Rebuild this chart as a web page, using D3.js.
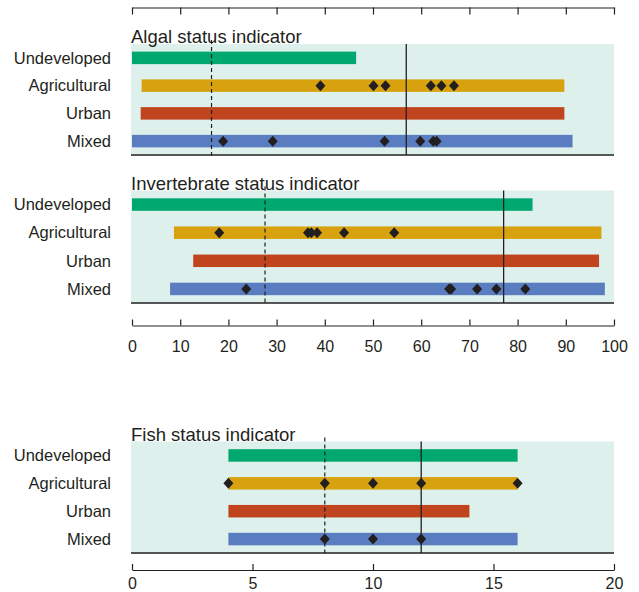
<!DOCTYPE html>
<html>
<head>
    <meta charset="utf-8" />
    <script src="https://cdn.jsdelivr.net/npm/d3@7"></script>
    <title>Status indicators</title>
    <style>
        body { margin: 0; background: #fff; }
        text { font-family: "Liberation Sans", Arial, sans-serif; fill: #231f20; }
    </style>
</head>
<body>
    <script>
        var categories = ["Undeveloped", "Agricultural", "Urban", "Mixed"];
        var colors = ["#00a870", "#d7a20d", "#c0441d", "#5a7cc0"];

        // [start, end] of each bar
        var algalRanges = [[0, 46.5], [2, 89.7], [1.8, 89.7], [0, 91.4]];
        var algalAgPoints = [39.1, 50.1, 52.6, 62, 64.2, 66.8];
        var algalMixedPoints = [18.9, 29.2, 52.4, 59.8, 62.5, 63.2];
        var algalLines = [16.5, 56.9]; // dashed, solid

        var invertRanges = [[0, 83.1], [8.7, 97.4], [12.7, 96.9], [7.9, 98.1]];
        var invertAgPoints = [18.1, 36.5, 37.2, 38.4, 44, 54.4];
        var invertMixedPoints = [23.7, 65.8, 66.2, 71.6, 75.6, 81.6];
        var invertLines = [27.6, 77.1];

        var fishRanges = [[4, 16], [4, 16], [4, 14], [4, 16]];
        var fishAgPoints = [4, 8, 10, 12, 16];
        var fishMixedPoints = [8, 10, 12];
        var fishLines = [8, 12];

        var pctTicks = [0, 10, 20, 30, 40, 50, 60, 70, 80, 90, 100];
        var fishTicks = [0, 5, 10, 15, 20];

        var svgWidth = 639, svgHeight = 592,
            left = 132, right = 614,
            barHeight = 12.5,
            ink = "#231f20";

        var svg = d3.select("body").append("svg")
            .attr("width", svgWidth)
            .attr("height", svgHeight);

        var xPct = d3.scaleLinear().domain([0, 100]).range([left, right]);
        var xFish = d3.scaleLinear().domain([0, 20]).range([left, right]);

        // category labels use the same band for every panel
        function drawPanel(title, x, top, bottom, ranges, agPoints, mixedPoints, lines) {
            var g = svg.append("g");
            var y = d3.scaleBand().domain(categories).range([top, bottom]);

            g.append("rect")
                .attr("x", left - 1)
                .attr("y", top)
                .attr("width", right - left + 1)
                .attr("height", bottom - top)
                .attr("fill", "#ddf0ec");

            g.append("text")
                .attr("x", left - 1)
                .attr("y", top - 1)
                .style("font-size", "18.5px")
                .text(title);

            g.selectAll(".cat")
                .data(categories)
                .enter().append("text")
                .attr("class", "cat")
                .attr("x", 111)
                .attr("y", function(d) { return y(d) + y.bandwidth() / 2; })
                .attr("dy", "0.35em")
                .attr("text-anchor", "end")
                .style("font-size", "16.5px")
                .text(function(d) { return d; });

            g.selectAll(".bar")
                .data(ranges)
                .enter().append("rect")
                .attr("class", "bar")
                .attr("x", function(d) { return x(d[0]); })
                .attr("width", function(d) { return x(d[1]) - x(d[0]); })
                .attr("y", function(d, i) { return y(categories[i]) + (y.bandwidth() - barHeight) / 2; })
                .attr("height", barHeight)
                .attr("fill", function(d, i) { return colors[i]; });

            // reference lines
            g.append("line")
                .attr("x1", x(lines[0])).attr("x2", x(lines[0]))
                .attr("y1", top - 4).attr("y2", bottom + 2)
                .attr("stroke", ink)
                .attr("stroke-width", 1.2)
                .attr("stroke-dasharray", "4,3");
            g.append("line")
                .attr("x1", x(lines[1])).attr("x2", x(lines[1]))
                .attr("y1", top).attr("y2", bottom)
                .attr("stroke", ink)
                .attr("stroke-width", 1.3);

            g.append("line")
                .attr("x1", left - 1).attr("x2", right)
                .attr("y1", bottom).attr("y2", bottom)
                .attr("stroke", ink)
                .attr("stroke-width", 1.3);

            var pts = agPoints.map(function(v) { return {v: v, c: "Agricultural"}; })
                .concat(mixedPoints.map(function(v) { return {v: v, c: "Mixed"}; }));
            g.selectAll(".pt")
                .data(pts)
                .enter().append("path")
                .attr("class", "pt")
                .attr("d", "M0,-5.5L5,0L0,5.5L-5,0Z")
                .attr("transform", function(d) {
                    return "translate(" + x(d.v) + "," + (y(d.c) + y.bandwidth() / 2) + ")";
                })
                .attr("fill", ink);
        }

        function styleAxis(a) {
            a.attr("font-size", null).attr("font-family", null);
            a.selectAll(".domain").attr("stroke", ink).attr("stroke-width", 1.2);
            a.selectAll(".tick line").attr("stroke", ink).attr("stroke-width", 1.2);
            a.selectAll("text").style("font-size", "16px").attr("fill", ink);
        }

        // top axis, ticks only
        var topAxis = svg.append("g")
            .attr("transform", "translate(0,7.5)")
            .call(d3.axisBottom(xPct).tickValues(pctTicks).tickSize(7).tickSizeOuter(0).tickFormat(""));
        styleAxis(topAxis);

        drawPanel("Algal status indicator", xPct, 44, 155, algalRanges, algalAgPoints, algalMixedPoints, algalLines);
        drawPanel("Invertebrate status indicator", xPct, 190.5, 303, invertRanges, invertAgPoints, invertMixedPoints, invertLines);
        drawPanel("Fish status indicator", xFish, 441.5, 553, fishRanges, fishAgPoints, fishMixedPoints, fishLines);

        var pctAxis = svg.append("g")
            .attr("transform", "translate(0,325.5)")
            .call(d3.axisBottom(xPct).tickValues(pctTicks).tickSize(-6).tickSizeOuter(0).tickPadding(15));
        styleAxis(pctAxis);

        var fishAxis = svg.append("g")
            .attr("transform", "translate(0,570)")
            .call(d3.axisBottom(xFish).tickValues(fishTicks).tickSize(-6).tickSizeOuter(0).tickPadding(8));
        styleAxis(fishAxis);
    </script>
</body>
</html>
